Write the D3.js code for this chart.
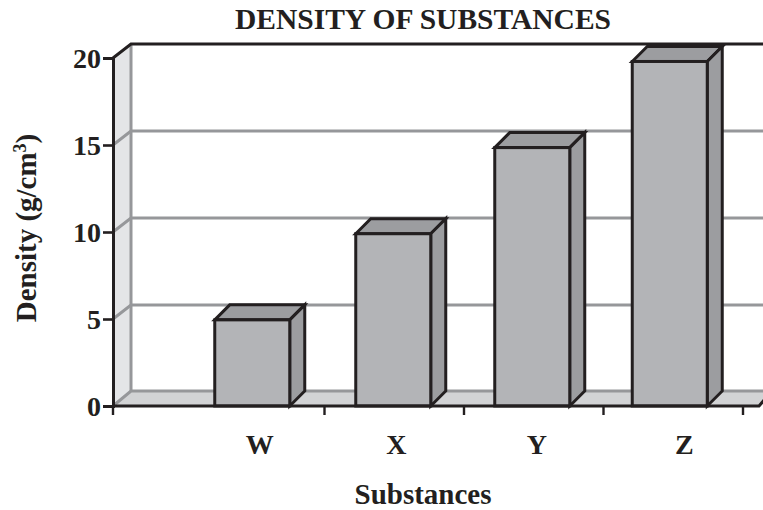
<!DOCTYPE html>
<html><head><meta charset="utf-8">
<script src="https://cdn.jsdelivr.net/npm/d3@7"></script>
<style>html,body{margin:0;padding:0;background:#fff}svg{display:block}text{font-family:"Liberation Serif",serif;font-weight:bold;fill:#231f20}</style>
</head><body><svg width="763" height="510"></svg>
<script>
const categories = ["W","X","Y","Z"];
const densities = [4.95,9.9,14.85,19.8];
const yTicks = [0,5,10,15,20];
const titleText = "DENSITY OF SUBSTANCES";
const xTitle = "Substances";
const yTitle = "Density (g/cm";

const svg = d3.select("svg");
const ink="#231f20", front="#b3b4b7", shade="#9c9da0", wall="#e4e5e7", floor="#d2d3d5", grid="#96979a";
const y = d3.scaleLinear().domain([0,20]).range([406,58]);
const x = d3.scaleBand().domain(categories).range([185,743]).paddingInner(0).paddingOuter(0);
const left = 113, right = 759, wallDx = 18, wallDy = -14, barDx = 15, barDy = -15, barW = 75, sw = 3;
const lineP = d3.line();

// walls and floor
svg.append("path").attr("fill",wall).attr("d",lineP([[left,y(0)],[left,y(20)],[left+wallDx,y(20)+wallDy],[left+wallDx,y(0)+wallDy]])+"Z");
svg.append("path").attr("fill",floor).attr("d",lineP([[left,y(0)],[left+wallDx,y(0)+wallDy-1],[763,y(0)+wallDy-1],[763,y(0)-6],[right,y(0)]])+"Z");
// gridlines
yTicks.forEach(t=>{
  if(t===20) return;
  const yb=y(t)+wallDy-(t===0?1:0);
  svg.append("path").attr("fill","none").attr("stroke",grid).attr("stroke-width",3)
    .attr("d",lineP([[left,y(t)],[left+wallDx,yb],[763,yb]]));
});
svg.append("path").attr("stroke",grid).attr("stroke-width",3)
  .attr("d",lineP([[left+wallDx,y(20)+wallDy],[left+wallDx,y(0)+wallDy]]));
// top edge
svg.append("path").attr("fill","none").attr("stroke",ink).attr("stroke-width",sw)
  .attr("d",lineP([[left,y(20)],[left+wallDx,y(20)+wallDy],[763,y(20)+wallDy]]));

// bars
const barShift = [-2.5,-1,-1.5,-3.5];
const bars = svg.append("g").attr("stroke",ink).attr("stroke-width",sw).attr("stroke-linejoin","miter")
  .selectAll("g").data(categories).join("g");
const bx = (c,i) => x(c)+x.bandwidth()/2-barW/2+barShift[i];
const val = i => densities[i];
bars.append("path").attr("fill",shade).attr("d",(c,i)=>{const a=bx(c,i),t=y(val(i));
  return lineP([[a,t],[a+barDx,t+barDy],[a+barW+barDx,t+barDy],[a+barW,t]])+"Z";});
bars.append("path").attr("fill",shade).attr("d",(c,i)=>{const a=bx(c,i)+barW,t=y(val(i));
  return lineP([[a,t],[a+barDx,t+barDy],[a+barDx,y(0)+barDy],[a,y(0)]])+"Z";});
bars.append("rect").attr("fill",front).attr("x",(c,i)=>bx(c,i)).attr("width",barW)
  .attr("y",(c,i)=>y(val(i))).attr("height",(c,i)=>y(0)-y(val(i)));

// axes
const yAxis = svg.append("g").attr("transform",`translate(${left},0)`)
  .call(d3.axisLeft(y).tickValues(yTicks).tickSize(10).tickPadding(2).tickFormat(d3.format("d")));
yAxis.selectAll("line").attr("stroke",ink).attr("stroke-width",2.6);
yAxis.select(".domain").attr("stroke",ink).attr("stroke-width",sw);
yAxis.selectAll("text").attr("font-size",28).style("font-family",'"Liberation Serif"').style("font-weight","bold").attr("fill",ink).attr("dy","0.33em");

svg.append("path").attr("fill","none").attr("stroke",ink).attr("stroke-width",sw)
  .attr("d",lineP([[left,y(0)],[right,y(0)],[765,y(0)-7]]));
const xTicks = [left].concat(categories.map(c=>x(c)+x.bandwidth()));
svg.append("g").selectAll("line").data(xTicks).join("line")
  .attr("x1",d=>d).attr("x2",d=>d).attr("y1",y(0)).attr("y2",y(0)+9)
  .attr("stroke",ink).attr("stroke-width",2.4);

const labelNudge=[5,2,3,11];
svg.append("g").selectAll("text").data(categories).join("text")
  .attr("x",(c,i)=>x(c)+x.bandwidth()/2+labelNudge[i]).attr("y",454).attr("text-anchor","middle")
  .attr("font-size",28).text(c=>c);

svg.append("text").attr("x",423).attr("y",29).attr("text-anchor","middle").attr("font-size",29.5).text(titleText);
svg.append("text").attr("x",423).attr("y",504).attr("text-anchor","middle").attr("font-size",29).text(xTitle);
const yt = svg.append("text").attr("transform","translate(36,228) rotate(-90)").attr("text-anchor","middle").attr("font-size",29).text(yTitle);
yt.append("tspan").attr("font-size",18).attr("dy",-10).text("3");
yt.append("tspan").attr("dy",10).text(")");
</script></body></html>
